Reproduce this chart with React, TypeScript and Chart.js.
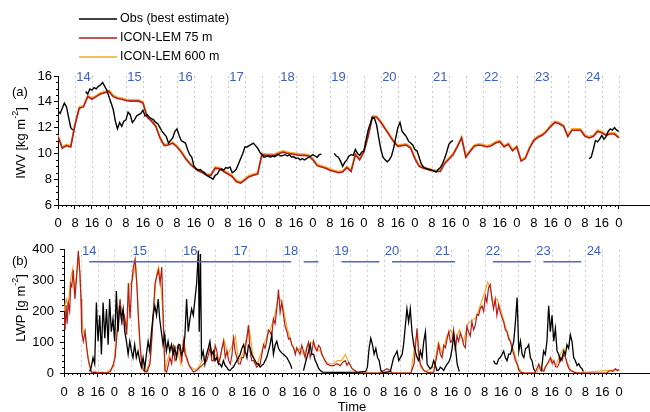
import React, { useEffect, useRef } from 'react';
import { Chart, registerables } from 'chart.js';

Chart.register(...registerables);

const FONT = '"Liberation Sans", Arial, Helvetica, sans-serif';

// ---------- labels / ticks ----------
const seriesNames = ['Obs (best estimate)', 'ICON-LEM 75 m', 'ICON-LEM 600 m'];
const seriesColors = ['#000000', '#b61c1c', '#f5aa26'];
const dayLabels = ['14', '15', '16', '17', '18', '19', '20', '21', '22', '23', '24'];
const dayNoonHours = [12, 36, 60, 84, 108, 132, 156, 180, 204, 228, 252];
const iwvTicks = [6, 8, 10, 12, 14, 16];
const lwpTicks = [0, 100, 200, 300, 400];
const lwpBarStarts = [12, 114, 132, 156, 204, 228];
const lwpBarEnds = [108, 121, 150, 186, 222, 246];
const lwpBarLevel = 361;
const LAST_HOUR = 264;
const X_MAX = 278.7;
const OBS_STEP = 1; // hours between observed IWV samples
const MODEL_STEP = 2; // hours between model IWV samples

// ---------- IWV [kg m-2] observed, hourly from 14 Nov 00 UTC (one row per day) ----------
const iwvObs: (number | null)[] = [
  13.3, 13.1, 13.5, 13.9, 13.6, 12.8, 12.0, 11.8, null, null, null, null, null, 14.8, 14.6, 15.0, 14.9, 15.1, 15.0, 15.2, 15.3, 15.5, 15.2, 14.9,
  14.4, 13.9, 13.4, 12.5, 11.9, 12.4, 12.1, 12.5, 12.6, 13.2, 13.0, 12.4, 12.6, 12.9, 13.0, 13.1, 13.35, 12.9, 13.0, 12.8, 12.7, 12.6, 12.4, 12.3,
  12.0, 11.7, 11.5, 11.3, 10.8, 11.0, 11.2, 11.7, 11.9, 11.4, 11.0, 10.9, 10.8, 10.3, 9.9, 9.7, 9.0, 8.8, 8.7, 8.75, 8.6, 8.5, 8.3, 8.2,
  8.1, 8.0, 8.3, 8.4, 8.7, 8.8, 8.7, 8.9, 8.85, 8.95, 8.5, 8.6, 8.8, 9.2, 9.6, 10.0, 10.5, 10.5, 10.6, 10.7, 10.8, 10.6, 10.4, 10.1,
  9.9, 9.7, 9.75, 9.8, 9.7, 9.8, 9.75, 9.85, 9.9, 9.8, 9.85, 9.9, 9.8, 9.9, 9.7, 9.75, 9.6, 9.65, 9.5, 9.6, 9.5, 9.6, 9.7, 9.8,
  9.9, 9.8, 9.7, 9.9, 9.95, null, null, null, null, null, 10.0, 9.8, 9.7, 9.4, 9.0, 9.3, 9.5, 9.8, 9.9, 9.85, 10.3, 10.0, 9.85, 10.1,
  10.2, 11.0, 11.8, 12.3, 12.8, 12.7, 12.2, 11.2, 10.3, 9.7, 9.5, 9.35, 9.5, 9.8, 10.4, 11.2, 12.0, 12.4, 11.7, 11.5, 11.3, 10.95, 10.8, 10.65,
  10.3, 10.2, 9.7, 9.2, 8.95, 8.85, 8.8, 8.75, 8.7, 8.65, 8.55, 8.75, 8.9, 9.2, 9.6, 10.1, 10.7, 10.9, 11.0, null, null, null, null, null,
  null, null, null, null, null, null, null, null, null, null, null, null, null, null, null, null, null, null, null, null, null, null, null, null,
  null, null, null, null, null, null, null, null, null, null, null, null, null, null, null, null, null, null, null, null, null, null, null, null,
  null, null, null, null, null, null, null, null, null, null, 9.6, 9.7, 10.3, 11.0, 10.9, 11.1, 11.4, 11.1, 11.3, 11.7, 11.9, 11.8, 12.0, 11.8,
  11.7,
];
// ---------- IWV [kg m-2] models, every 2 h ----------
const iwvIcon75: number[] = [
  11.3, 10.4, 10.6, 10.5, 12.2, 13.5, 13.6, 14.4, 14.2, 14.4, 14.6, 14.7,
  14.8, 14.4, 14.25, 14.2, 14.1, 14.05, 14.05, 14.05, 13.9, 12.8, 12.5, 12.1,
  11.2, 10.6, 10.65, 10.8, 10.5, 10.1, 9.6, 9.2, 8.9, 8.65, 8.5, 8.3,
  8.3, 8.85, 8.8, 8.6, 8.4, 8.2, 7.8, 7.7, 7.95, 8.2, 8.3, 8.4,
  9.9, 9.85, 9.85, 9.85, 10.0, 10.1, 10.0, 9.95, 9.9, 9.85, 9.85, 9.8,
  9.5, 9.05, 8.95, 8.85, 8.7, 8.6, 8.5, 8.55, 8.9, 8.6, 9.9, 9.5,
  10.1, 11.3, 12.8, 12.8, 12.4, 11.9, 11.4, 10.9, 10.55, 10.6, 10.65, 10.4,
  9.6, 9.0, 8.85, 8.75, 8.65, 8.6, 8.6, 9.2, 9.55, 9.9, 10.5, 11.2,
  9.7, 10.15, 10.55, 10.65, 10.6, 10.5, 10.6, 10.8, 10.9, 10.5, 10.7, 10.2,
  10.5, 9.4, 9.6, 10.4, 11.0, 11.25, 11.4, 11.7, 12.1, 12.4, 12.3, 12.1,
  11.3, 11.8, 11.8, 11.8, 11.35, 11.2, 11.3, 11.7, 11.6, 11.4, 11.5, 11.5,
  11.2,
];
const iwvIcon600: number[] = [
  11.4, 10.5, 10.7, 10.6, 12.3, 13.6, 13.7, 14.5, 14.3, 14.5, 14.7, 14.8,
  14.9, 14.5, 14.35, 14.3, 14.2, 14.15, 14.15, 14.15, 14.0, 12.9, 12.6, 12.2,
  11.3, 10.7, 10.75, 10.85, 10.6, 10.2, 9.7, 9.3, 9.0, 8.75, 8.6, 8.4,
  8.4, 8.95, 8.9, 8.7, 8.5, 8.3, 7.9, 7.8, 8.05, 8.3, 8.4, 8.5,
  10.0, 9.95, 9.95, 9.95, 10.1, 10.2, 10.1, 10.05, 10.0, 9.95, 9.95, 9.9,
  9.6, 9.15, 9.05, 8.95, 8.8, 8.7, 8.6, 8.65, 9.0, 8.7, 10.0, 9.6,
  10.2, 11.4, 12.9, 12.9, 12.5, 12.0, 11.5, 11.0, 10.65, 10.7, 10.75, 10.5,
  9.7, 9.1, 8.95, 8.85, 8.75, 8.7, 8.7, 9.3, 9.65, 10.0, 10.6, 11.3,
  9.8, 10.25, 10.65, 10.75, 10.7, 10.6, 10.7, 10.9, 11.0, 10.6, 10.8, 10.3,
  10.6, 9.5, 9.7, 10.5, 11.1, 11.35, 11.5, 11.8, 12.2, 12.5, 12.4, 12.2,
  11.4, 11.9, 11.9, 11.9, 11.45, 11.3, 11.4, 11.8, 11.7, 11.5, 11.6, 11.6,
  11.3,
];

// ---------- LWP [g m-2], [hour, value] ----------
const lwpObs: [number, number | null][] = [
  [12.2, 5], [13, 20], [13.8, 50], [14.6, 30], [15.4, 229], [16.2, 103], [17, 187], [17.8, 60],
  [18.6, 229], [19.4, 113], [20.2, 208], [21, 92], [21.7, 240], [22.5, 134], [23.3, 176], [24.1, 103],
  [24.9, 266], [25.7, 134], [26.5, 218], [27.3, 176], [28.1, 208], [28.9, 134], [29.7, 103], [30.5, 61],
  [31.3, 103], [32.1, 71], [32.8, 50], [33.6, 92], [34.4, 50], [35.2, 71], [36, 40], [36.8, 19],
  [37.6, 50], [38.4, 14], [39.2, 61], [40, 103], [40.8, 71], [41.6, 134], [42.4, 187], [43.2, 218],
  [44, 187], [44.8, 240], [45.5, 176], [46.3, 134], [47.1, 92], [47.9, 124], [48.7, 71], [49.5, 103],
  [50.3, 71], [51.1, 92], [51.9, 61], [52.7, 82], [53.5, 50], [54.3, 90], [55.1, 92], [55.9, 60],
  [56.7, 71], [57.5, 120], [58.3, 240], [59.1, 134], [59.9, 176], [60.7, 208], [61.5, 187], [62.3, 240],
  [63.1, 292], [63.9, 397], [64.3, 134], [64.9, 386], [65.4, 50], [66.2, 71], [67, 29], [67.8, 61],
  [68.6, 80], [69.4, 103], [70.2, 60], [71, 71], [71.8, 40], [72.6, 50], [73.4, 30], [74.2, 29],
  [75, 20], [75.8, 40], [76.6, 25], [77.4, 19], [78.2, 10], [79, 8], [79.8, 15], [80.6, 19],
  [81.4, 30], [82.2, 40], [83, 50], [83.8, 61], [84.6, 80], [85.4, 92], [86.2, 70], [87, 50],
  [87.7, 90], [88.5, 82], [89.3, 60], [90.1, 50], [90.9, 40], [91.7, 29], [92.5, 30], [93.3, 19],
  [94.1, 25], [94.9, 29], [95.6, 40], [96.4, 50], [97.2, 70], [98, 92], [98.8, 124], [99.6, 61],
  [100.4, 90], [101.2, 103], [102, 80], [102.8, 71], [103.6, 65], [104.4, 61], [105.2, 55], [106, 50],
  [106.8, 40], [107.6, 29], [108.4, 14], [110, null], [113.9, 8], [114.7, 30], [115.5, 50], [116.3, 70],
  [117.1, 92], [117.9, 60], [118.7, 61], [119.5, 40], [120.3, 29], [121.1, 15], [121.9, 8], [123, 3],
  [130, 2], [140, 3], [143.5, 5], [144.3, 19], [145.1, 80], [145.9, 113], [146.7, 92], [147.5, 61],
  [148.3, 80], [149.1, 50], [149.9, 40], [150.7, 8], [151.5, 3], [153, 2], [155.2, 5], [156.8, 50],
  [157.6, 60], [158.4, 71], [159.2, 40], [160, 50], [160.8, 60], [161.5, 92], [162.3, 150], [163.1, 208],
  [163.9, 166], [164.7, 208], [165.5, 134], [166.3, 92], [167.1, 70], [167.9, 50], [168.7, 40], [169.5, 71],
  [170.3, 50], [171.1, 103], [171.9, 134], [172.7, 29], [173.5, 20], [174.2, 14], [175, 20], [175.8, 40],
  [176.6, 25], [177.4, 8], [178.2, 10], [179, 19], [179.8, 15], [180.6, 8], [181.4, 20], [182.2, 29],
  [183, 35], [183.8, 50], [184.6, 80], [185.4, 124], [186.2, 82], [187, 29], [188, 5], [190, null],
  [204.3, 40], [205.1, 30], [205.9, 29], [206.7, 45], [207.5, 50], [208.3, 60], [209.1, 71], [209.9, 50],
  [210.7, 40], [211.5, 61], [212.3, 61], [213.1, 80], [213.9, 103], [214.7, 166], [215.5, 245], [216.3, 71],
  [217.1, 103], [217.9, 60], [218.7, 50], [219.5, 80], [220.2, 82], [221, 92], [221.8, 50], [222.6, 40],
  [223.3, 15], [224, 5], [225, null], [227, 5], [228.1, 71], [228.9, 60], [229.7, 103], [230.5, 218],
  [231.3, 134], [232.1, 187], [232.9, 103], [233.7, 145], [234.5, 71], [235.3, 60], [236.1, 40], [236.9, 50],
  [237.7, 71], [238.5, 60], [239.2, 92], [240, 80], [240.8, 124], [241.6, 103], [242.4, 50], [243.2, 40],
  [244, 24], [244.8, 30], [245.6, 19], [246.4, 14], [247, 5],
];
const lwpIcon75: [number, number][] = [
  [0, 190], [0.5, 140], [1, 220], [1.5, 160], [2, 229], [2.7, 200], [3.2, 290], [3.7, 281],
  [4.4, 334], [5.2, 240], [6, 313], [6.8, 397], [7.6, 323], [8.1, 240], [8.4, 134], [9.2, 103],
  [10, 134], [10.8, 82], [11.6, 40], [12.4, 19], [13.2, 0], [14.8, 3], [16, 0], [18, 2],
  [20, 0], [22, 4], [23.5, 29], [24.3, 50], [25, 113], [25.9, 187], [26.7, 240], [27.5, 155],
  [28.3, 197], [29, 176], [29.8, 124], [30.6, 292], [31.4, 176], [32.2, 292], [33, 344], [33.8, 370],
  [34.6, 292], [35.4, 176], [36.2, 92], [37, 29], [37.8, 8], [39.4, 3], [40.9, 29], [41.7, 103],
  [42.5, 197], [43.3, 292], [44.1, 313], [44.9, 334], [45.7, 292], [46.5, 344], [47.2, 176], [48, 8],
  [48.8, 3], [50.4, 50], [51.2, 30], [52, 82], [52.8, 40], [53.6, 50], [54.4, 90], [55.2, 71],
  [56, 40], [56.8, 103], [57.6, 60], [58.4, 50], [59.2, 30], [60, 19], [61.6, 3], [63.1, 8],
  [64.7, 19], [66.3, 29], [67.9, 40], [68.7, 60], [69.5, 82], [70.3, 40], [71.1, 40], [71.9, 90],
  [72.7, 71], [73.5, 30], [74.3, 50], [75.1, 80], [75.9, 103], [76.7, 50], [77.5, 71], [78.3, 40],
  [79.1, 29], [79.9, 60], [80.6, 113], [81.4, 70], [82.2, 50], [83, 30], [83.8, 29], [84.6, 50],
  [85.4, 50], [86.2, 80], [87, 113], [87.7, 155], [88.5, 71], [89.3, 40], [90.1, 40], [90.9, 30],
  [91.7, 19], [92.5, 25], [93.3, 29], [94.1, 60], [94.9, 92], [95.6, 80], [96.4, 103], [97.2, 140],
  [98, 134], [98.8, 120], [99.6, 176], [100.4, 160], [101.2, 208], [102, 271], [102.8, 197], [103.6, 230],
  [104.4, 187], [105.2, 150], [106, 134], [106.8, 110], [107.6, 113], [108.4, 90], [109.2, 82], [110, 60],
  [110.7, 82], [111.5, 70], [112.3, 61], [113.1, 90], [113.9, 71], [114.7, 50], [115.5, 82], [116.3, 100],
  [117.1, 50], [117.9, 70], [118.7, 103], [119.5, 80], [120.3, 71], [121.1, 90], [121.9, 82], [122.7, 60],
  [123.4, 50], [124.2, 40], [125, 29], [126.7, 24], [128.2, 24], [129.8, 30], [131.4, 24], [132.6, 35],
  [133.8, 40], [134.6, 25], [135.4, 35], [137, 14], [139.3, 3], [141, 0], [150, 0], [153.6, 14],
  [155.2, 8], [156, 0], [165, 0], [166.5, 30], [167.2, 90], [167.9, 145], [168.7, 60], [169.5, 29],
  [171.1, 8], [173, 2], [175.8, 3], [176.6, 30], [177.4, 60], [178.2, 92], [179, 60], [179.8, 50],
  [180.6, 90], [181.4, 82], [182.2, 110], [183, 134], [183.8, 100], [184.5, 103], [185.3, 140], [186.1, 71],
  [186.9, 120], [187.7, 103], [188.5, 130], [189.3, 113], [190.1, 90], [190.9, 82], [191.6, 150], [192.4, 134],
  [193.2, 120], [194, 166], [194.8, 140], [195.6, 155], [196.4, 190], [197.2, 187], [198, 210], [198.8, 218],
  [199.6, 200], [200.4, 250], [201.1, 230], [201.9, 276], [202.7, 287], [203.5, 240], [204.3, 208], [205.1, 240],
  [205.9, 187], [206.7, 220], [207.5, 197], [208.3, 180], [209.1, 166], [209.9, 140], [210.7, 134], [211.5, 110],
  [212.3, 103], [213.1, 80], [213.9, 61], [214.7, 40], [215.5, 29], [216.3, 10], [217, 3], [219, 0],
  [224, 0], [225.8, 29], [226.6, 10], [227.4, 8], [228.2, 5], [229, 20], [229.8, 29], [230.6, 40],
  [231.4, 50], [232.2, 30], [233, 40], [233.8, 20], [234.6, 19], [235.4, 30], [236.1, 50], [236.9, 40],
  [237.7, 61], [238.5, 50], [239.3, 29], [240.1, 15], [240.9, 8], [242.5, 3], [244, 0], [258, 0],
  [259, 5], [260, 8], [261, 5], [262.3, 14], [263, 8], [264, 10],
];
const lwpIcon600: [number, number][] = [
  [0, 200], [1, 240], [2, 210], [3, 300], [4.2, 340], [5, 260], [6, 320], [7, 380],
  [8, 250], [9, 130], [10, 140], [11, 70], [12, 30], [13, 5], [20, 0], [23.5, 20],
  [25, 110], [26.5, 230], [28, 190], [30, 150], [31, 280], [32.5, 300], [34, 360], [35, 250],
  [36, 100], [37, 20], [39, 5], [41, 40], [42.5, 200], [44, 320], [45, 345], [46, 290],
  [47, 200], [48, 10], [50, 60], [52, 90], [54, 80], [55.5, 30], [57, 110], [58.5, 40],
  [60, 20], [63, 10], [66, 40], [68, 60], [69.5, 90], [71, 50], [72.5, 60], [74, 40],
  [76, 110], [78, 60], [80, 90], [81.5, 120], [83, 40], [85, 60], [87, 120], [88, 150],
  [90, 50], [92, 30], [94, 70], [96, 110], [98, 140], [100, 180], [102, 250], [104, 220],
  [106, 150], [108, 100], [110, 70], [112, 80], [114, 60], [116, 90], [118, 100], [120, 80],
  [122, 70], [124, 40], [126, 30], [128, 30], [130, 40], [132, 40], [133.8, 60], [135, 40],
  [137, 15], [140, 0], [165, 0], [167, 100], [168, 130], [169.5, 20], [172, 5], [176, 20],
  [178, 100], [180, 60], [182, 120], [184, 140], [186, 100], [188, 140], [190, 100], [192, 160],
  [194, 170], [196, 180], [198, 220], [200, 260], [201.5, 295], [203, 270], [204, 230], [206, 240],
  [208, 200], [210, 150], [212, 110], [214, 70], [216, 20], [218, 0], [225, 0], [226, 25],
  [228, 10], [230, 30], [232, 45], [234, 25], [236, 60], [237.7, 80], [239, 40], [241, 10],
  [244, 0], [262, 10], [264, 12],
];

// ---------- helpers ----------
const xMajorTicks: number[] = [];
for (let h = 0; h <= LAST_HOUR; h += 8) xMajorTicks.push(h);

type Panel = 'a' | 'b';

function drawYTitle(ctx: CanvasRenderingContext2D, cx: number, cy: number, main: string, unit: string) {
  const big = `13px ${FONT}`;
  const small = `9px ${FONT}`;
  const p1 = `${main} [${unit} m`;
  const sup = '-2';
  const p3 = ']';
  ctx.save();
  ctx.translate(cx, cy);
  ctx.rotate(-Math.PI / 2);
  ctx.fillStyle = '#000';
  ctx.textBaseline = 'middle';
  ctx.textAlign = 'left';
  ctx.font = big;
  const w1 = ctx.measureText(p1).width;
  const w3 = ctx.measureText(p3).width;
  ctx.font = small;
  const w2 = ctx.measureText(sup).width;
  let x = -(w1 + w2 + w3) / 2;
  ctx.font = big;
  ctx.fillText(p1, x, 0);
  x += w1;
  ctx.font = small;
  ctx.fillText(sup, x, -5);
  x += w2;
  ctx.font = big;
  ctx.fillText(p3, x, 0);
  ctx.restore();
}

function makeDecor(panel: Panel) {
  return {
    id: 'decor' + panel,
    beforeDatasetsDraw(chart: any) {
      const { ctx, chartArea } = chart;
      const xs = chart.scales.x;
      ctx.save();
      ctx.strokeStyle = '#c9c9c9';
      ctx.lineWidth = 1;
      ctx.setLineDash([2, 3]);
      for (const h of xMajorTicks) {
        if (h === 0) continue;
        const x = Math.round(xs.getPixelForValue(h)) + 0.5;
        ctx.beginPath();
        ctx.moveTo(x, chartArea.top);
        ctx.lineTo(x, chartArea.bottom);
        ctx.stroke();
      }
      ctx.restore();
    },
    afterDraw(chart: any) {
      const { ctx, chartArea } = chart;
      const xs = chart.scales.x;
      const ys = chart.scales.y;
      ctx.save();
      // minor x ticks
      ctx.strokeStyle = '#000';
      ctx.lineWidth = 1;
      ctx.setLineDash([]);
      const yb = Math.round(chartArea.bottom);
      for (let h = 0; h <= LAST_HOUR; h += 2) {
        if (h % 8 === 0) continue;
        const x = Math.round(xs.getPixelForValue(h)) + 0.5;
        ctx.beginPath();
        ctx.moveTo(x, yb);
        ctx.lineTo(x, yb + 2);
        ctx.stroke();
      }
      // minor y ticks
      const yStep = panel === 'a' ? 0.5 : 20;
      const yMajor = panel === 'a' ? 2 : 100;
      const yMin = panel === 'a' ? 6 : 0;
      const yMax = panel === 'a' ? 16 : 400;
      const xl = Math.round(chartArea.left);
      for (let v = yMin; v <= yMax + 1e-6; v += yStep) {
        const r = (v - yMin) / yMajor;
        if (Math.abs(r - Math.round(r)) < 1e-6) continue;
        const y = Math.round(ys.getPixelForValue(v)) + 0.5;
        ctx.beginPath();
        ctx.moveTo(xl - 2, y);
        ctx.lineTo(xl, y);
        ctx.stroke();
      }
      // day labels
      ctx.fillStyle = '#3d5fc2';
      ctx.font = `13px ${FONT}`;
      ctx.textAlign = 'center';
      ctx.textBaseline = 'middle';
      dayLabels.forEach((d, i) => {
        ctx.fillText(d, xs.getPixelForValue(dayNoonHours[i]), chartArea.top + 1.5);
      });
      // blue bars in LWP panel
      if (panel === 'b') {
        ctx.strokeStyle = '#4a69c8';
        ctx.lineWidth = 1.5;
        const y = ys.getPixelForValue(lwpBarLevel);
        lwpBarStarts.forEach((s, i) => {
          ctx.beginPath();
          ctx.moveTo(xs.getPixelForValue(s), y);
          ctx.lineTo(xs.getPixelForValue(lwpBarEnds[i]), y);
          ctx.stroke();
        });
      }
      // panel letter
      ctx.fillStyle = '#000';
      ctx.textAlign = 'left';
      ctx.font = `13px ${FONT}`;
      ctx.fillText(panel === 'a' ? '(a)' : '(b)', 12, chartArea.top + (panel === 'a' ? 16 : 12));
      // y title
      if (panel === 'a') drawYTitle(ctx, 21, 143, 'IWV', 'kg');
      else drawYTitle(ctx, 21, 72, 'LWP', 'g');
      // legend
      if (panel === 'a') {
        const rows = [19, 38, 57];
        chart.data.datasets.forEach((ds: any, i: number) => {
          ctx.strokeStyle = ds.borderColor;
          ctx.lineWidth = 1.6;
          ctx.beginPath();
          ctx.moveTo(79, rows[i]);
          ctx.lineTo(117, rows[i]);
          ctx.stroke();
          ctx.fillStyle = '#000';
          ctx.font = `12.5px ${FONT}`;
          ctx.textAlign = 'left';
          ctx.textBaseline = 'middle';
          ctx.fillText(ds.label, 120, rows[i]);
        });
      } else {
        ctx.fillStyle = '#000';
        ctx.font = `13px ${FONT}`;
        ctx.textAlign = 'center';
        ctx.textBaseline = 'middle';
        ctx.fillText('Time', 352, 171);
      }
      ctx.restore();
    },
  };
}

function makeConfig(panel: Panel): any {
  const isA = panel === 'a';
  const datasets = isA
    ? [
        { label: seriesNames[0], data: iwvObs.map((v, i) => ({ x: i * OBS_STEP, y: v })), borderColor: seriesColors[0], borderWidth: 1.4 },
        { label: seriesNames[1], data: iwvIcon75.map((v, i) => ({ x: i * MODEL_STEP, y: v })), borderColor: seriesColors[1], borderWidth: 1.6 },
        { label: seriesNames[2], data: iwvIcon600.map((v, i) => ({ x: i * MODEL_STEP, y: v })), borderColor: seriesColors[2], borderWidth: 1.6 },
      ]
    : [
        { label: seriesNames[0], data: lwpObs.map(([h, v]) => ({ x: h, y: v })), borderColor: seriesColors[0], borderWidth: 1.3 },
        { label: seriesNames[1], data: lwpIcon75.map(([h, v]) => ({ x: h, y: v })), borderColor: seriesColors[1], borderWidth: 1.2 },
        { label: seriesNames[2], data: lwpIcon600.map(([h, v]) => ({ x: h, y: v })), borderColor: seriesColors[2], borderWidth: 1.2 },
      ];
  const yTicks = isA ? iwvTicks : lwpTicks;
  return {
    type: 'line',
    data: {
      datasets: datasets.map((d) => ({
        ...d,
        pointRadius: 0,
        fill: false,
        tension: 0,
        spanGaps: false,
        backgroundColor: d.borderColor,
      })),
    },
    options: {
      responsive: false,
      animation: false,
      devicePixelRatio: 1,
      events: [],
      layout: { padding: { top: isA ? 76 : 10, left: 0, right: 0, bottom: 0 } },
      plugins: { legend: { display: false }, tooltip: { enabled: false } },
      scales: {
        x: {
          type: 'linear',
          min: 0,
          max: X_MAX,
          afterBuildTicks: (s: any) => {
            s.ticks = xMajorTicks.map((v) => ({ value: v }));
          },
          afterFit: (s: any) => {
            s.height = isA ? 31 : 39;
          },
          ticks: {
            autoSkip: false,
            maxRotation: 0,
            padding: isA ? 7 : 8,
            color: '#000',
            font: { family: FONT, size: 13 },
            callback: (v: any) => String(Number(v) % 24),
          },
          grid: { drawOnChartArea: false, drawTicks: true, tickLength: 4, tickColor: '#000', color: '#000' },
          border: { display: true, color: '#000', width: 1 },
        },
        y: {
          type: 'linear',
          min: isA ? 6 : 0,
          max: isA ? 16 : 400,
          afterBuildTicks: (s: any) => {
            s.ticks = yTicks.map((v) => ({ value: v }));
          },
          afterFit: (s: any) => {
            s.width = isA ? 58 : 64;
          },
          ticks: {
            padding: isA ? 2 : 6,
            color: '#000',
            font: { family: FONT, size: 13 },
          },
          grid: { drawOnChartArea: false, drawTicks: true, tickLength: 4, tickColor: '#000', color: '#000' },
          border: { display: true, color: '#000', width: 1 },
        },
      },
    },
    plugins: [makeDecor(panel)],
  };
}

function PanelChart({ panel, top, height }: { panel: Panel; top: number; height: number }) {
  const ref = useRef<HTMLCanvasElement | null>(null);
  useEffect(() => {
    if (!ref.current) return;
    const chart = new Chart(ref.current, makeConfig(panel));
    return () => chart.destroy();
  }, [panel]);
  return (
    <canvas
      ref={ref}
      width={650}
      height={height}
      style={{ position: 'absolute', left: 0, top, width: 650, height }}
    />
  );
}

export default function App() {
  return (
    <div style={{ position: 'fixed', left: 0, top: 0, width: 650, height: 412, background: '#fff', overflow: 'hidden' }}>
      <PanelChart panel="a" top={0} height={236} />
      <PanelChart panel="b" top={236} height={176} />
    </div>
  );
}
